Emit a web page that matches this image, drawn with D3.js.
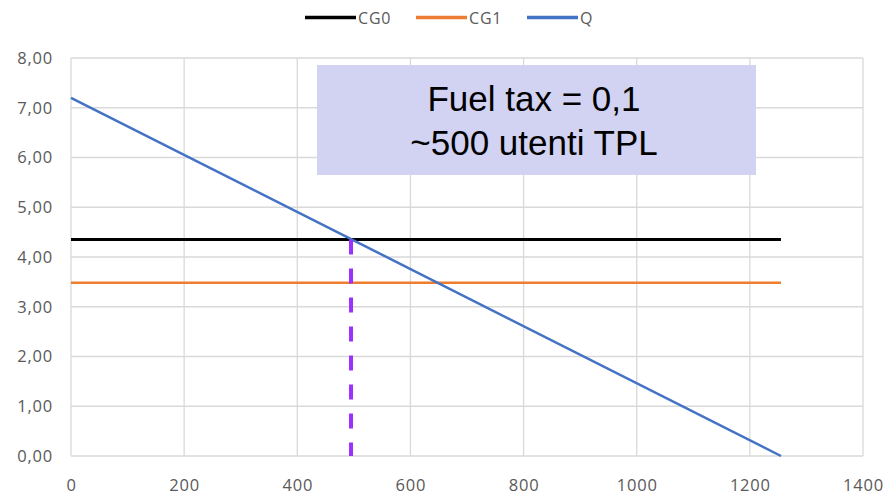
<!DOCTYPE html>
<html><head><meta charset="utf-8">
<script src="https://cdn.jsdelivr.net/npm/d3@7"></script>
<style>body{margin:0;background:#fff}svg{display:block}</style>
</head><body>
<svg id="c" width="892" height="496"></svg>
<script>
const seriesNames = ["CG0", "CG1", "Q"];
const seriesColors = ["#000000", "#ED7D31", "#4472C4"];
const xPoints = [0, 1255];
const cg0Values = [4.35, 4.35];
const cg1Values = [3.48, 3.48];
const qValues = [7.2, 0];
const xTicks = [0, 200, 400, 600, 800, 1000, 1200, 1400];
const yTicks = [0, 1, 2, 3, 4, 5, 6, 7, 8];
const markerX = 495;
const annotationLines = ["Fuel tax = 0,1", "~500 utenti TPL"];

const svg = d3.select("#c");
const x = d3.scaleLinear().domain([0, 1400]).range([71, 863]);
const y = d3.scaleLinear().domain([0, 8]).range([456, 58]);
const fmtY = v => d3.format(".2f")(v).replace(".", ",");
const labFont = "Open Sans, Liberation Sans, sans-serif";

// grid
svg.append("g").selectAll("line").data(yTicks).join("line")
  .attr("x1", x(0)).attr("x2", x(1400)).attr("y1", d => y(d)).attr("y2", d => y(d))
  .attr("stroke", "#d9d9d9").attr("stroke-width", 1.3);
svg.append("g").selectAll("line").data(xTicks).join("line")
  .attr("y1", y(0)).attr("y2", y(8)).attr("x1", d => x(d)).attr("x2", d => x(d))
  .attr("stroke", "#d9d9d9").attr("stroke-width", 1.3);

// axes labels
const yAxis = d3.axisLeft(y).tickValues(yTicks).tickFormat(fmtY).tickSize(0).tickPadding(18);
const gy = svg.append("g").attr("transform", `translate(${x(0)},0)`).call(yAxis);
gy.select(".domain").remove();
gy.selectAll("text").attr("fill", "#595959").attr("font-family", labFont)
  .attr("font-size", 16.5).attr("letter-spacing", 0.8);

const xAxis = d3.axisBottom(x).tickValues(xTicks).tickFormat(d => d).tickSize(0).tickPadding(23);
const gx = svg.append("g").attr("transform", `translate(0,${y(0)})`).call(xAxis);
gx.select(".domain").remove();
gx.selectAll("text").attr("fill", "#595959").attr("font-family", labFont)
  .attr("font-size", 16.5).attr("letter-spacing", 0.8);

// series
const line = d3.line().x(d => x(d[0])).y(d => y(d[1]));
const data = [cg0Values, cg1Values, qValues].map(vals => xPoints.map((xv, i) => [xv, vals[i]]));
const widths = [3, 2.5, 2.5];
svg.append("g").selectAll("path").data(data).join("path")
  .attr("d", line).attr("fill", "none")
  .attr("stroke", (d, i) => seriesColors[i]).attr("stroke-width", (d, i) => widths[i]);

// marker dashed line
svg.append("line")
  .attr("x1", x(markerX)).attr("x2", x(markerX))
  .attr("y1", y(cg0Values[0])).attr("y2", y(0))
  .attr("stroke", "#9B30FF").attr("stroke-width", 4).attr("stroke-dasharray", "15,14");

// annotation box
const box = svg.append("g");
box.append("rect").attr("x", 317).attr("y", 65).attr("width", 439).attr("height", 110).attr("fill", "#D2D2F2");
box.selectAll("text").data(annotationLines).join("text")
  .attr("x", 534).attr("y", (d, i) => 111 + i * 44)
  .attr("text-anchor", "middle").attr("font-family", "Liberation Sans, Arial, sans-serif")
  .attr("font-size", 35).attr("fill", "#000").text(d => d);

// legend
const legX = [305, 416, 527];
const leg = svg.append("g").selectAll("g").data(seriesNames).join("g")
  .attr("transform", (d, i) => `translate(${legX[i]},17.5)`);
leg.append("line").attr("x1", 0).attr("x2", 51).attr("y1", 0).attr("y2", 0)
  .attr("stroke", (d, i) => seriesColors[i]).attr("stroke-width", 3.5);
leg.append("text").attr("x", 53).attr("y", 6).attr("fill", "#595959")
  .attr("font-family", labFont).attr("font-size", 16).attr("letter-spacing", 0.8).text(d => d);
</script>
</body></html>
